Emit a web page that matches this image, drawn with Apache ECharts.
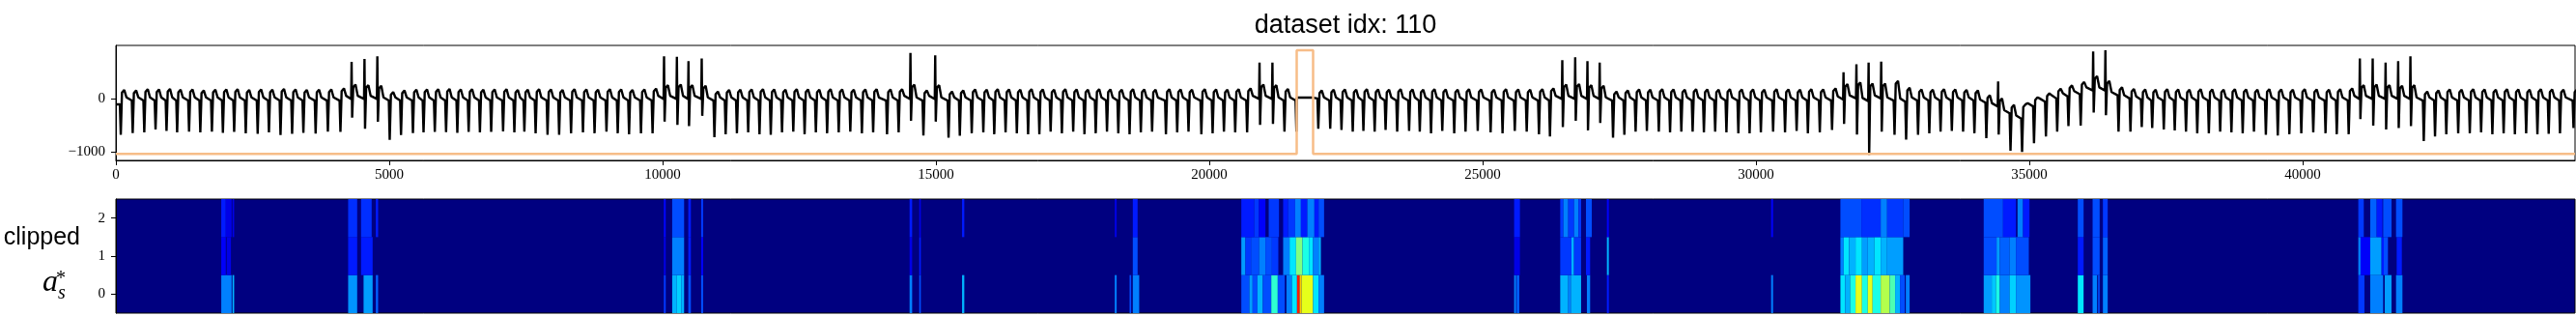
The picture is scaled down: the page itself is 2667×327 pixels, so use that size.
<!DOCTYPE html>
<html>
<head>
<meta charset="utf-8">
<script src="https://cdn.jsdelivr.net/npm/echarts@6/dist/echarts.min.js"></script>
<style>
html, body { margin: 0; padding: 0; background: #fff; }
#main { width: 2667px; height: 327px; }
</style>
</head>
<body>
<div id="main"></div>
<script>
var X_MAX = 44980;
var xTicks = [0, 5000, 10000, 15000, 20000, 25000, 30000, 35000, 40000];
var yTicks = [-1000, 0];
var rowTicks = [0, 1, 2];

// beat onsets (sample index)
var beatPos = [
  83, 301, 513, 719, 920, 1114, 1332, 1538, 1750, 1951,
  2157, 2369, 2587, 2793, 3005, 3217, 3423, 3647, 3871, 4101,
  4313, 4549, 4784, 5002, 5209, 5427, 5621, 5827, 6033, 6239,
  6446, 6652, 6858, 7076, 7282,
  7465, 7671, 7889, 8101, 8319, 8537, 8749, 8967, 9173, 9380,
  9598, 9810, 10028, 10263, 10475, 10717, 10941, 11147, 11353, 11559,
  11766, 11972, 12178, 12384, 12591, 12797, 13003, 13215, 13427, 13639,
  13845, 14099, 14311, 14535, 14764,
  14988, 15224, 15430, 15648, 15860, 16060, 16267, 16473, 16679, 16885,
  17091, 17297, 17504, 17710, 17916, 18122, 18329, 18535, 18741, 18947,
  19200, 19406, 19613, 19848, 20054, 20261, 20467, 20685, 20920, 21156,
  21368, 21587, 21987, 22205,
  22411, 22617, 22812, 23018, 23218, 23430, 23648, 23843, 24049, 24255,
  24473, 24680, 24903, 25139, 25357, 25581, 25799, 26023, 26224, 26458,
  26694, 26918, 27142, 27378, 27585, 27791, 27997, 28215, 28421, 28627,
  28834, 29040, 29246, 29452, 29670,
  29876, 30082, 30306, 30524, 30736, 30942, 31160, 31384, 31602, 31838,
  32061, 32291, 32527, 32739, 32957, 33163, 33369, 33575, 33781, 33988,
  34206, 34430, 34648, 34860, 35078, 35296, 35502, 35708, 35932, 36168,
  36392, 36624, 36842, 37049,
  37240, 37452, 37652, 37858, 38064, 38276, 38483, 38689, 38895, 39101,
  39319, 39537, 39749, 39967, 40186, 40410, 40616, 40834, 41046, 41281,
  41517, 41747, 41971, 42207, 42413, 42619, 42837, 43049, 43256, 43462,
  43668, 43874, 44080, 44286, 44492, 44699, 44946
];
// bottom of each negative spike
var beatLow = [
  -685, -652, -636, -582, -612, -636, -624, -640, -624, -645,
  -630, -655, -667, -636, -690, -667, -645, -660, -624, -630,
  -360, -570, -440, -780, -690, -650, -640, -630, -635, -645,
  -630, -640, -630, -620, -640,
  -624, -655, -685, -685, -655, -636, -655, -624, -655, -673,
  -655, -655, -436, -497, -521, -327, -730, -673, -655, -636,
  -673, -685, -636, -624, -673, -636, -655, -636, -624, -655,
  -636, -673, -636, -418, -697,
  -436, -739, -703, -655, -636, -673, -636, -655, -673, -673,
  -624, -655, -624, -673, -655, -624, -655, -673, -636, -624,
  -673, -636, -624, -673, -655, -624, -636, -636, -497, -479,
  -624, -624, -570, -570,
  -594, -624, -612, -624, -594, -624, -612, -624, -655, -612,
  -655, -624, -612, -636, -655, -612, -624, -673, -715, -540,
  -418, -600, -461, -739, -685, -624, -612, -624, -636, -624,
  -624, -636, -624, -636, -655,
  -655, -636, -624, -636, -612, -655, -636, -594, -479, -679,
  -1060, -624, -685, -775, -685, -655, -624, -612, -624, -655,
  -745, -679, -982, -1006, -842, -715, -624, -521, -509, -267,
  -315, -624, -624, -540,
  -558, -582, -600, -624, -655, -655, -624, -636, -655, -624,
  -685, -697, -673, -655, -636, -655, -673, -673, -388, -509,
  -582, -558, -521, -800, -715, -673, -655, -655, -636, -673,
  -655, -673, -655, -673, -667, -655, -558
];
// tall positive spikes (0 = none)
var beatHigh = [
  0, 0, 0, 0, 0, 0, 0, 0, 0, 0,
  0, 0, 0, 0, 0, 0, 0, 0, 0, 0,
  690, 745, 795, 0, 0, 0, 0, 0, 0, 0,
  0, 0, 0, 0, 0,
  0, 0, 0, 0, 0, 0, 0, 0, 0, 0,
  0, 0, 794, 782, 703, 752, 0, 0, 0, 0,
  0, 0, 0, 0, 0, 0, 0, 0, 0, 0,
  0, 0, 0, 855, 0,
  812, 0, 0, 0, 0, 0, 0, 0, 0, 0,
  0, 0, 0, 0, 0, 0, 0, 0, 0, 0,
  0, 0, 0, 0, 0, 0, 0, 0, 673, 673,
  0, 0, 0, 0,
  0, 0, 0, 0, 0, 0, 0, 0, 0, 0,
  0, 0, 0, 0, 0, 0, 0, 0, 0, 721,
  776, 703, 673, 0, 0, 0, 0, 0, 0, 0,
  0, 0, 0, 0, 0,
  0, 0, 0, 0, 0, 0, 0, 0, 491, 642,
  673, 691, 0, 0, 0, 0, 0, 0, 0, 0,
  0, 320, 0, 0, 0, 0, 0, 0, 0, 885,
  905, 0, 0, 0,
  0, 0, 0, 0, 0, 0, 0, 0, 0, 0,
  0, 0, 0, 0, 0, 0, 0, 0, 752, 752,
  673, 703, 794, 0, 0, 0, 0, 0, 0, 0,
  0, 0, 0, 0, 0, 0, 0
];
// T-wave top after each spike
var beatPeak = [
  160, 150, 175, 170, 180, 165, 170, 150, 165, 170,
  175, 160, 170, 165, 180, 170, 160, 165, 170, 190,
  260, 250, 240, 120, 150, 165, 170, 175, 180, 170,
  175, 165, 170, 175, 160,
  165, 175, 170, 160, 175, 170, 165, 175, 170, 160,
  170, 185, 250, 260, 250, 240, 130, 160, 165, 170,
  175, 170, 165, 175, 170, 165, 175, 170, 165, 170,
  175, 170, 175, 260, 150,
  250, 130, 150, 170, 165, 175, 170, 165, 175, 170,
  165, 175, 170, 165, 175, 170, 165, 175, 170, 165,
  175, 170, 165, 175, 170, 165, 175, 190, 260, 250,
  180, 15, 150, 165,
  170, 165, 175, 170, 165, 175, 170, 165, 175, 170,
  165, 175, 170, 165, 175, 170, 165, 175, 190, 260,
  270, 250, 240, 130, 150, 170, 165, 175, 170, 165,
  175, 170, 165, 175, 170,
  170, 165, 175, 170, 165, 175, 170, 190, 270, 300,
  280, 280, 330, 200, 170, 165, 175, 170, 160, 150,
  60, 0, -120, -110, 20, 95, 185, 245, 310, 420,
  330, 210, 180, 170,
  165, 175, 170, 165, 175, 170, 165, 175, 170, 165,
  175, 170, 165, 175, 170, 165, 175, 190, 250, 260,
  250, 240, 250, 130, 150, 170, 165, 175, 170, 165,
  175, 170, 165, 175, 170, 165, 170
];
// level just before each spike (baseline wander)
var beatBase = [
  -110, -40, -40, -40, -40, -40, -40, -40, -40, -40,
  -40, -40, -40, -40, -40, -40, -40, -40, -40, -40,
  -10, -10, -10, -40, -40, -40, -40, -40, -40, -40,
  -40, -40, -40, -40, -40,
  -40, -40, -40, -40, -40, -40, -40, -40, -40, -40,
  -40, -40, -10, -10, -10, -10, -40, -40, -40, -40,
  -40, -40, -40, -40, -40, -40, -40, -40, -40, -40,
  -40, -40, -40, -10, -40,
  -10, -40, -40, -40, -40, -40, -40, -40, -40, -40,
  -40, -40, -40, -40, -40, -40, -40, -40, -40, -40,
  -40, -40, -40, -40, -40, -40, -40, -40, -10, -10,
  -40, -40, 0, -40,
  -40, -40, -40, -40, -40, -40, -40, -40, -40, -40,
  -40, -40, -40, -40, -40, -40, -40, -40, -40, -10,
  -10, -10, -10, -40, -40, -40, -40, -40, -40, -40,
  -40, -40, -40, -40, -40,
  -40, -40, -40, -40, -40, -40, -40, -40, -20, 0,
  -50, 0, -40, -60, -40, -40, -40, -40, -40, -40,
  -80, -150, -280, -380, -150, -60, 0, 40, 80, 150,
  150, 60, 0, -20,
  -40, -40, -40, -40, -40, -40, -40, -40, -40, -40,
  -40, -40, -40, -40, -40, -40, -40, -40, -10, -10,
  -10, -10, -10, -40, -40, -40, -40, -40, -40, -40,
  -40, -40, -40, -40, -40, -40, -40
];

// dropped-out stretch and the orange label step
var flatStart = 21600, flatEnd = 21900, flatLevel = 15;
var anomalyStart = 21598, anomalyEnd = 21898;
var labelLow = -1045, labelHigh = 905;

// heatmap cells: [start, end, value] per row
var heatRow2 = [
  [1927, 2010, 0.15], [2010, 2116, 0.10], [2133, 2163, 0.10],
  [4248, 4413, 0.17], [4484, 4678, 0.17], [4755, 4796, 0.15],
  [10022, 10057, 0.13], [10175, 10393, 0.20], [10470, 10517, 0.15], [10705, 10741, 0.18],
  [14517, 14564, 0.15], [14694, 14723, 0.10], [15477, 15518, 0.15],
  [18270, 18305, 0.10], [18600, 18688, 0.15],
  [20585, 20820, 0.15], [20820, 20909, 0.18], [20909, 21026, 0.12], [21086, 21274, 0.18],
  [21350, 21439, 0.15], [21439, 21569, 0.18], [21569, 21675, 0.25], [21675, 21792, 0.15],
  [21792, 21922, 0.25], [21922, 21999, 0.15], [21999, 22099, 0.20],
  [25575, 25681, 0.15],
  [26418, 26476, 0.18], [26476, 26565, 0.25], [26565, 26671, 0.18], [26671, 26753, 0.25],
  [26753, 26800, 0.18], [26889, 26995, 0.20], [27272, 27307, 0.12],
  [30276, 30311, 0.12],
  [31543, 31926, 0.20], [31926, 32280, 0.17], [32280, 32397, 0.25], [32397, 32692, 0.18], [32692, 32809, 0.20],
  [34164, 34518, 0.20], [34518, 34754, 0.15], [34783, 34884, 0.25], [34884, 35001, 0.15],
  [35885, 35991, 0.20], [36156, 36285, 0.20], [36344, 36432, 0.18],
  [41016, 41116, 0.18], [41234, 41352, 0.22], [41352, 41458, 0.15], [41470, 41623, 0.20], [41706, 41823, 0.20]
];
var heatRow1 = [
  [1927, 2010, 0.12], [2027, 2104, 0.10],
  [4248, 4413, 0.15], [4484, 4696, 0.15],
  [10022, 10057, 0.10], [10175, 10393, 0.25], [10470, 10517, 0.15], [10705, 10741, 0.12],
  [14517, 14564, 0.10], [14694, 14723, 0.15],
  [18600, 18688, 0.20],
  [20585, 20661, 0.28], [20661, 20762, 0.18], [20762, 20909, 0.20], [20909, 21026, 0.25],
  [21026, 21145, 0.20], [21145, 21262, 0.18], [21350, 21468, 0.25], [21468, 21586, 0.35],
  [21586, 21704, 0.50], [21704, 21822, 0.40], [21822, 21898, 0.35], [21898, 21999, 0.25], [21999, 22040, 0.30],
  [25575, 25681, 0.10],
  [26418, 26624, 0.18], [26624, 26671, 0.30], [26671, 26800, 0.18], [26889, 26965, 0.15], [27272, 27307, 0.30],
  [31543, 31602, 0.25], [31602, 31702, 0.35], [31702, 31820, 0.30], [31820, 31938, 0.35], [31938, 32044, 0.28],
  [32044, 32162, 0.30], [32162, 32280, 0.35], [32280, 32397, 0.30], [32397, 32692, 0.28],
  [34164, 34400, 0.20], [34400, 34459, 0.28], [34459, 34636, 0.22], [34636, 34754, 0.25], [34754, 34989, 0.20],
  [35885, 35991, 0.15], [36156, 36285, 0.20], [36344, 36432, 0.22],
  [41016, 41057, 0.25], [41057, 41234, 0.12], [41234, 41441, 0.28], [41441, 41482, 0.15], [41482, 41558, 0.20], [41718, 41812, 0.15]
];
var heatRow0 = [
  [1927, 2116, 0.25], [2133, 2163, 0.30],
  [4248, 4413, 0.27], [4530, 4696, 0.28], [4755, 4796, 0.22],
  [10022, 10057, 0.18], [10175, 10260, 0.30], [10260, 10340, 0.33], [10340, 10393, 0.30], [10470, 10517, 0.20], [10705, 10741, 0.20],
  [14517, 14564, 0.25], [14694, 14723, 0.20], [15477, 15518, 0.30],
  [18270, 18305, 0.25], [18541, 18570, 0.20], [18600, 18717, 0.25],
  [20585, 20732, 0.20], [20732, 20791, 0.28], [20791, 20879, 0.20], [20879, 20979, 0.30], [20979, 21133, 0.20],
  [21133, 21251, 0.42], [21251, 21380, 0.20], [21410, 21510, 0.25], [21510, 21604, 0.35], [21604, 21651, 0.85],
  [21651, 21686, 0.68], [21686, 21898, 0.60], [21898, 21999, 0.35], [21999, 22099, 0.25],
  [25575, 25610, 0.25], [25622, 25669, 0.22],
  [26418, 26565, 0.30], [26565, 26612, 0.25], [26612, 26800, 0.30], [26906, 26965, 0.25], [27272, 27307, 0.15],
  [30276, 30311, 0.25],
  [31543, 31631, 0.35], [31631, 31720, 0.30], [31720, 31820, 0.40], [31820, 31938, 0.60], [31938, 32044, 0.40],
  [32044, 32132, 0.60], [32132, 32280, 0.40], [32280, 32444, 0.55], [32444, 32544, 0.45], [32544, 32633, 0.30],
  [32633, 32721, 0.20], [32739, 32809, 0.25],
  [34164, 34311, 0.28], [34311, 34388, 0.32], [34388, 34459, 0.40], [34459, 34636, 0.25], [34636, 34754, 0.33], [34754, 35018, 0.27],
  [35885, 35991, 0.35], [36156, 36238, 0.25], [36256, 36285, 0.20], [36344, 36432, 0.25],
  [41016, 41128, 0.18], [41234, 41470, 0.25], [41499, 41623, 0.28], [41706, 41823, 0.25]
];

var jet = ['#000080', '#0000ff', '#0080ff', '#00ffff', '#80ff80', '#ffff00', '#ff8000', '#ff0000', '#800000'];

// build the trace: each beat drawn through its read values
var signal = [[0, beatBase[0]]];
for (var i = 0; i < beatPos.length; i++) {
  var p = beatPos[i];
  var q = i + 1 < beatPos.length ? beatPos[i + 1] : X_MAX + 200;
  var nextBase = i + 1 < beatBase.length ? beatBase[i + 1] : beatBase[i];
  signal.push([p - 10, beatBase[i]]);
  if (beatHigh[i]) {
    signal.push([p - 2, beatHigh[i]]);
    signal.push([p + 8, beatLow[i]]);
  } else {
    signal.push([p + 6, beatLow[i]]);
  }
  signal.push([p + 28, beatPeak[i] - 50]);
  signal.push([p + 42, beatPeak[i] - 80]);
  signal.push([p + 70, beatPeak[i]]);
  if (p + 110 < q - 10) signal.push([p + 110, nextBase + 60]);
}
signal = signal.filter(function (d) { return d[0] <= flatStart || d[0] >= flatEnd; });
signal.push([flatStart, flatLevel], [flatEnd, flatLevel]);
signal.sort(function (a, b) { return a[0] - b[0]; });

var labelLine = [
  [0, labelLow], [anomalyStart, labelLow], [anomalyStart, labelHigh],
  [anomalyEnd, labelHigh], [anomalyEnd, labelLow], [X_MAX, labelLow]
];

var cells = [];
[heatRow0, heatRow1, heatRow2].forEach(function (row, r) {
  row.forEach(function (c) { cells.push([c[0], c[1], r, c[2]]); });
});

function tickFmt(v) {
  return v < 0 ? '\u2212' + Math.abs(v) : String(v);
}

var serif = { fontFamily: 'Liberation Serif', fontSize: 15, color: '#000' };

var myChart = echarts.init(document.getElementById('main'));
var option = {
  animation: false,
  backgroundColor: '#fff',
  grid: [
    { left: 120, top: 47, width: 2546, height: 119, show: true, borderColor: '#000', borderWidth: 1, backgroundColor: '#fff' },
    { left: 120, top: 206, width: 2546, height: 118, show: true, borderColor: '#000', borderWidth: 1, backgroundColor: '#000080' }
  ],
  xAxis: [{
    gridIndex: 0, type: 'value', min: 0, max: X_MAX,
    axisLine: { show: true, onZero: false, lineStyle: { color: '#000', width: 1 } },
    axisTick: { show: true, length: 5, customValues: xTicks, lineStyle: { color: '#000' } },
    axisLabel: Object.assign({ margin: 8, customValues: xTicks, formatter: tickFmt }, serif),
    splitLine: { show: false }
  }, {
    gridIndex: 1, type: 'value', min: 0, max: X_MAX,
    axisLine: { show: false }, axisTick: { show: false }, axisLabel: { show: false },
    splitLine: { show: false }
  }],
  yAxis: [{
    gridIndex: 0, type: 'value', min: -1166, max: 998,
    axisLine: { show: true, onZero: false, lineStyle: { color: '#000', width: 1 } },
    axisTick: { show: true, length: 5, customValues: yTicks, lineStyle: { color: '#000' } },
    axisLabel: Object.assign({ margin: 11, customValues: yTicks, formatter: tickFmt }, serif),
    splitLine: { show: false }
  }, {
    gridIndex: 1, type: 'value', min: -0.5, max: 2.5,
    axisLine: { show: true, onZero: false, lineStyle: { color: '#000', width: 1 } },
    axisTick: { show: true, length: 5, customValues: rowTicks, lineStyle: { color: '#000' } },
    axisLabel: Object.assign({ margin: 11, customValues: rowTicks, formatter: tickFmt }, serif),
    splitLine: { show: false }
  }],
  visualMap: {
    type: 'continuous', show: false, min: 0, max: 1, dimension: 3, seriesIndex: 2,
    inRange: { color: jet }
  },
  graphic: [
    { type: 'text', x: 1393, y: 27, style: { text: 'dataset idx: 110', textAlign: 'center', textVerticalAlign: 'middle', font: '27px "Liberation Sans"', fill: '#000' } },
    { type: 'text', x: 83, y: 246, style: { text: 'clipped', textAlign: 'right', textVerticalAlign: 'middle', font: '25px "Liberation Sans"', fill: '#000' } },
    { type: 'text', x: 60, y: 293, style: { text: 'a', textAlign: 'right', textVerticalAlign: 'middle', font: 'italic 32px "Liberation Serif"', fill: '#000' } },
    { type: 'text', x: 58, y: 289, style: { text: '*', textAlign: 'left', textVerticalAlign: 'middle', font: '20px "Liberation Serif"', fill: '#000' } },
    { type: 'text', x: 60, y: 304, style: { text: 's', textAlign: 'left', textVerticalAlign: 'middle', font: 'italic 20px "Liberation Serif"', fill: '#000' } }
  ],
  series: [{
    type: 'line', xAxisIndex: 0, yAxisIndex: 0, data: signal,
    showSymbol: false, symbol: 'none', z: 2,
    lineStyle: { color: '#000', width: 2.4 }
  }, {
    type: 'line', xAxisIndex: 0, yAxisIndex: 0, data: labelLine,
    showSymbol: false, symbol: 'none', z: 3,
    lineStyle: { color: '#f7bd88', width: 2.5 }
  }, {
    type: 'custom', xAxisIndex: 1, yAxisIndex: 1, data: cells,
    encode: { x: [0, 1], y: 2 },
    renderItem: function (params, api) {
      var a = api.coord([api.value(0), api.value(2) + 0.5]);
      var b = api.coord([api.value(1), api.value(2) - 0.5]);
      return {
        type: 'rect',
        shape: { x: a[0], y: a[1], width: b[0] - a[0], height: b[1] - a[1] },
        style: { fill: api.visual('color') }
      };
    }
  }]
};
myChart.setOption(option);
</script>
</body>
</html>
